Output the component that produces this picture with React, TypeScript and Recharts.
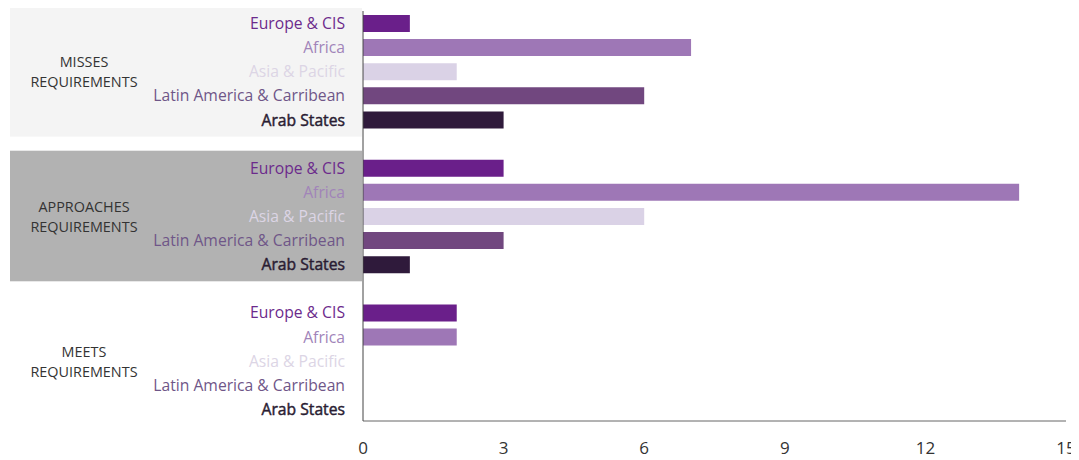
import { BarChart, Bar, XAxis, YAxis, Cell, ReferenceArea } from 'recharts';

const regions = ['Europe & CIS', 'Africa', 'Asia & Pacific', 'Latin America & Carribean', 'Arab States'];
const groups = [['MISSES', 'REQUIREMENTS'], ['APPROACHES', 'REQUIREMENTS'], ['MEETS', 'REQUIREMENTS']];
const misses = [1, 7, 2, 6, 3];
const approaches = [3, 14, 6, 3, 1];
const meets = [2, 2, 0, 0, 0];
const xTicks = [0, 3, 6, 9, 12, 15];

const barColors = ['#6a1f8a', '#9e77b6', '#dad2e6', '#71477f', '#2f1a3b'];
const labelColors = ['#6c2a8c', '#a184b9', '#dcd5e5', '#6f5688', '#2a1c32'];
const groupFills = ['#f4f4f4', '#b2b2b2', 'none'];

const groupValues = [misses, approaches, meets];

interface Row {
  key: string;
  label: string;
  region: number;
  value: number | null;
}

const rows: Row[] = [];
groupValues.forEach((vals, g) => {
  if (g > 0) rows.push({ key: `gap-${g}`, label: '', region: -1, value: null });
  vals.forEach((v, r) => rows.push({ key: `${g}-${r}`, label: regions[r], region: r, value: v }));
});

const FONT = '"Open Sans", Lato, sans-serif';

const RegionTick = (props: any) => {
  const { x, y, payload } = props;
  const row = rows.find((d) => d.key === payload.value);
  if (!row || row.region < 0) return null;
  // Arab States is a touch heavier in the original, fake a medium weight
  const heavy = row.region === 4;
  return (
    <text
      x={x}
      y={y}
      textAnchor="end"
      dominantBaseline="central"
      fontFamily={FONT}
      fontSize={15.7}
      fill={labelColors[row.region]}
      stroke={heavy ? labelColors[row.region] : 'none'}
      strokeWidth={heavy ? 0.45 : 0}
    >
      {row.label}
    </text>
  );
};

// background band + two-line group label, placed left of the plot
const groupShape = (g: number) => (props: any) => {
  const { x, y, height } = props;
  const left = 2;
  const cx = left + 74;
  const cy = y + height / 2;
  return (
    <g>
      {groupFills[g] !== 'none' && (
        <rect x={left} y={y - 5} width={x - left - 1} height={height + 10} fill={groupFills[g]} />
      )}
      <text x={cx} y={cy - 10} textAnchor="middle" dominantBaseline="central" fontFamily={FONT} fontSize={14.4} fill="#333">
        <tspan x={cx}>{groups[g][0]}</tspan>
        <tspan x={cx} dy={20}>{groups[g][1]}</tspan>
      </text>
    </g>
  );
};

export default function App() {
  return (
    <BarChart
      width={1071}
      height={452}
      data={rows}
      layout="vertical"
      margin={{ top: 3, right: 13, left: 0, bottom: 0 }}
      barSize={17}
    >
      {groups.map((_, g) => (
        <ReferenceArea
          key={g}
          y1={`${g}-0`}
          y2={`${g}-4`}
          ifOverflow="visible"
          shape={groupShape(g)}
        />
      ))}
      <XAxis
        type="number"
        domain={[0, 15]}
        ticks={xTicks}
        tickLine={false}
        tickMargin={15}
        height={39}
        axisLine={{ stroke: '#666' }}
        tick={{ fill: '#333', fontSize: 17, fontFamily: FONT }}
      />
      <YAxis
        type="category"
        dataKey="key"
        width={355}
        tickLine={false}
        tickMargin={12}
        interval={0}
        axisLine={{ stroke: '#444' }}
        tick={<RegionTick />}
      />
      <Bar dataKey="value" isAnimationActive={false}>
        {rows.map((d) => (
          <Cell key={d.key} fill={d.region >= 0 ? barColors[d.region] : 'none'} />
        ))}
      </Bar>
    </BarChart>
  );
}
